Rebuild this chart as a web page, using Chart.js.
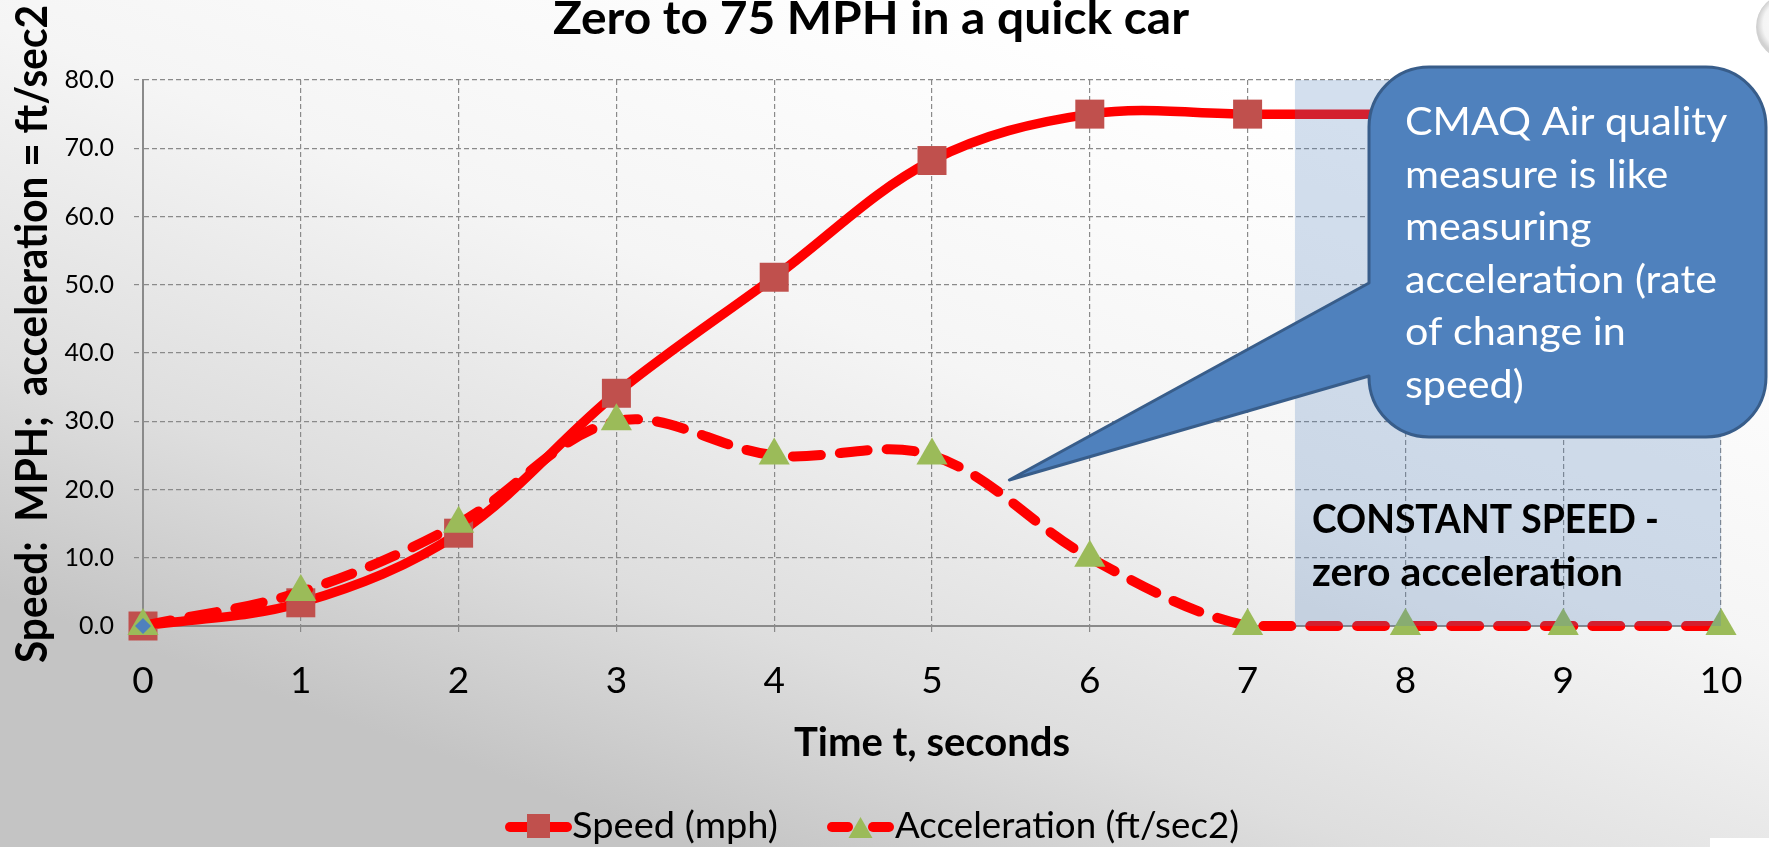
<!DOCTYPE html>
<html>
<head>
<meta charset="utf-8">
<title>Zero to 75 MPH in a quick car</title>
<script src="https://cdn.jsdelivr.net/npm/chart.js@4.4.1/dist/chart.umd.min.js"></script>
<style>
  html, body { margin: 0; padding: 0; width: 1769px; height: 847px; overflow: hidden; background: #fff; }
  #carChart { display: block; }
</style>
</head>
<body>
<canvas id="carChart" width="1769" height="847"></canvas>
<script>
// ── Data ──────────────────────────────────────────────────────
const timeSec     = [0, 1, 2, 3, 4, 5, 6, 7, 8, 9, 10];
const speedMph    = [0, 3.4, 13.6, 34.1, 51.1, 68.2, 75.0, 75.0, 75.0, 75.0, 75.0];
const accelFtSec2 = [0, 5, 15, 30, 25, 25, 10, 0, 0, 0, 0];
const startPoint  = [0];                 // little blue diamond at the origin
const yTicks      = [0, 10, 20, 30, 40, 50, 60, 70, 80];
const constantFrom = 7.3;                // start of the constant speed band

const FONT = 'Lato, "Open Sans", sans-serif';
const RED = '#ff0000';

// draw text squeezed/stretched horizontally to a given width
function drawFitted(ctx, text, x, y, font, width, align) {
    ctx.font = font;
    const w = ctx.measureText(text).width;
    ctx.save();
    ctx.translate(x, y);
    ctx.scale(width / w, 1);
    ctx.textAlign = align || 'left';
    ctx.fillText(text, 0, 0);
    ctx.restore();
}

// ── Slide background ──────────────────────────────────────────
const backgroundPlugin = {
    id: 'slideBackground',
    beforeDraw(chart) {
        const { ctx, width, height } = chart;
        ctx.save();
        const g = ctx.createLinearGradient(1000, 0, 700, height);
        g.addColorStop(0, '#ffffff');
        g.addColorStop(0.4, '#f5f5f5');
        g.addColorStop(0.75, '#dedede');
        g.addColorStop(1, '#c4c4c4');
        ctx.fillStyle = g;
        ctx.fillRect(0, 0, width, height);
        ctx.restore();
    }
};

// ── Shaded band + its label (sits over the lines) ─────────────
const bandPlugin = {
    id: 'constantBand',
    afterDatasetsDraw(chart) {
        const { ctx, scales: { x, y } } = chart;
        const left = x.getPixelForValue(constantFrom);
        const right = x.getPixelForValue(timeSec[timeSec.length - 1]);
        const top = y.getPixelForValue(yTicks[yTicks.length - 1]);
        const bottom = y.getPixelForValue(0);
        ctx.save();
        ctx.fillStyle = 'rgba(79, 129, 189, 0.25)';
        ctx.fillRect(left, top, right - left, bottom - top);

        ctx.fillStyle = '#000';
        ctx.textBaseline = 'alphabetic';
        drawFitted(ctx, 'CONSTANT SPEED -', left + 17, 533, 'bold 40px ' + FONT, 347);
        drawFitted(ctx, 'zero acceleration', left + 17, 586, 'bold 40px ' + FONT, 311);
        ctx.restore();
    }
};

// ── Title, y title, legend, callout ───────────────────────────
const decorPlugin = {
    id: 'decor',
    afterDraw(chart) {
        const { ctx, scales: { x, y } } = chart;
        ctx.save();
        ctx.fillStyle = '#000';
        ctx.textBaseline = 'alphabetic';

        // chart title
        drawFitted(ctx, 'Zero to 75 MPH in a quick car', 871, 34, 'bold 45px ' + FONT, 636, 'center');

        // rotated value-axis title
        ctx.save();
        ctx.translate(33, 334);
        ctx.rotate(-Math.PI / 2);
        ctx.textBaseline = 'middle';
        drawFitted(ctx, 'Speed:  MPH;  acceleration = ft/sec2', 0, 0, 'bold 43px ' + FONT, 658, 'center');
        ctx.restore();

        // legend: speed
        ctx.lineCap = 'round';
        ctx.strokeStyle = RED;
        ctx.lineWidth = 10;
        ctx.beginPath(); ctx.moveTo(510, 827); ctx.lineTo(567, 827); ctx.stroke();
        ctx.fillStyle = '#c0504d';
        ctx.fillRect(527, 814, 23, 24);
        ctx.fillStyle = '#000';
        drawFitted(ctx, chart.data.datasets[0].label, 572, 838, '37px ' + FONT, 206);

        // legend: acceleration
        ctx.strokeStyle = RED;
        ctx.beginPath(); ctx.moveTo(832, 827); ctx.lineTo(848, 827); ctx.stroke();
        ctx.beginPath(); ctx.moveTo(873, 827); ctx.lineTo(889, 827); ctx.stroke();
        ctx.fillStyle = '#9bbb59';
        ctx.beginPath(); ctx.moveTo(860.5, 817); ctx.lineTo(872.5, 838); ctx.lineTo(848.5, 838); ctx.closePath(); ctx.fill();
        ctx.fillStyle = '#000';
        drawFitted(ctx, chart.data.datasets[1].label, 895, 838, '37px ' + FONT, 344);

        // callout bubble pointing at the acceleration curve
        const tipX = x.getPixelForValue(5.49), tipY = y.getPixelForValue(21.4);
        const L = 1369, T = 67, R = 1766, B = 437, r = 60;
        ctx.beginPath();
        ctx.moveTo(L + r, T);
        ctx.lineTo(R - r, T);
        ctx.arcTo(R, T, R, T + r, r);
        ctx.lineTo(R, B - r);
        ctx.arcTo(R, B, R - r, B, r);
        ctx.lineTo(L + r, B);
        ctx.arcTo(L, B, L, B - r, r);
        ctx.lineTo(L, 376);
        ctx.lineTo(tipX, tipY);
        ctx.lineTo(L, 283);
        ctx.lineTo(L, T + r);
        ctx.arcTo(L, T, L + r, T, r);
        ctx.closePath();
        ctx.fillStyle = '#4f81bd';
        ctx.fill();
        ctx.lineJoin = 'round';
        ctx.lineWidth = 3;
        ctx.strokeStyle = '#385d8a';
        ctx.stroke();

        const lines = ['CMAQ Air quality', 'measure is like', 'measuring',
                       'acceleration (rate', 'of change in', 'speed)'];
        ctx.font = '38px ' + FONT;
        const sx = 312 / ctx.measureText(lines[3]).width;
        ctx.fillStyle = '#ffffff';
        lines.forEach((ln, i) => {
            ctx.save();
            ctx.translate(1405, 135 + i * 52.6);
            ctx.scale(sx, 1);
            ctx.fillText(ln, 0, 0);
            ctx.restore();
        });

        // slide button peeking in at the top right corner
        ctx.fillStyle = 'rgba(0,0,0,0.18)';
        ctx.beginPath(); ctx.arc(1789, 27, 33, 0, Math.PI * 2); ctx.fill();
        const rg = ctx.createRadialGradient(1792, 22, 4, 1788, 25, 31);
        rg.addColorStop(0, '#ffffff');
        rg.addColorStop(0.8, '#f4f4f4');
        rg.addColorStop(1, '#d0d0d0');
        ctx.fillStyle = rg;
        ctx.beginPath(); ctx.arc(1788, 25, 31, 0, Math.PI * 2); ctx.fill();

        ctx.fillStyle = '#ffffff';
        ctx.fillRect(1710, 838, 59, 9);
        ctx.restore();
    }
};

// ── Chart ─────────────────────────────────────────────────────
const toPoints = (vals) => vals.map((v, i) => ({ x: timeSec[i], y: v }));
const gridColor = '#8a8a8a';

new Chart(document.getElementById('carChart'), {
    type: 'line',
    data: {
        datasets: [
            {
                label: 'Speed (mph)',
                data: toPoints(speedMph),
                borderColor: RED, borderWidth: 9.5, tension: 0.35,
                pointStyle: 'rect', pointRadius: 20.5, pointHoverRadius: 20.5,
                pointBackgroundColor: '#c0504d', pointBorderColor: '#c0504d', pointBorderWidth: 0,
                order: 2, clip: false
            },
            {
                label: 'Acceleration (ft/sec2)',
                data: toPoints(accelFtSec2),
                borderColor: RED, borderWidth: 10, tension: 0.35,
                borderDash: [28, 19], borderCapStyle: 'round',
                pointStyle: 'triangle', pointRadius: 18, pointHoverRadius: 18,
                pointBackgroundColor: '#9bbb59', pointBorderColor: '#9bbb59', pointBorderWidth: 0,
                order: 1, clip: false
            },
            {
                label: 'start',
                data: toPoints(startPoint),
                showLine: false,
                pointStyle: 'rectRot', pointRadius: 8,
                pointBackgroundColor: '#4f81bd', pointBorderWidth: 0,
                order: 0, clip: false
            }
        ]
    },
    options: {
        responsive: false,
        animation: false,
        devicePixelRatio: 1,
        layout: { padding: { top: 80, right: 48, bottom: 80, left: 0 } },
        plugins: {
            legend: { display: false },
            tooltip: { enabled: false },
            title: { display: false }
        },
        scales: {
            x: {
                type: 'linear', min: 0, max: 10,
                afterFit(scale) { scale.height = 141; },
                ticks: {
                    stepSize: 1, padding: 24, color: '#000',
                    font: { family: FONT, size: 37 }
                },
                grid: { color: gridColor, lineWidth: 1.2, tickLength: 9, tickBorderDash: [5, 3], tickColor: gridColor },
                border: { display: true, color: gridColor, width: 2, dash: [5, 3] },
                title: {
                    display: true, text: 'Time t, seconds', color: '#000',
                    font: { family: FONT, size: 40, weight: 'bold' },
                    padding: { top: 0, bottom: 0 }
                }
            },
            y: {
                min: yTicks[0], max: yTicks[yTicks.length - 1],
                afterFit(scale) { scale.width = 143; },
                afterBuildTicks(scale) { scale.ticks = yTicks.map(v => ({ value: v })); },
                ticks: {
                    padding: 20, color: '#000',
                    font: { family: FONT, size: 25 },
                    callback: (v) => Number(v).toFixed(1)
                },
                grid: { color: gridColor, lineWidth: 1.2, tickLength: 9, tickBorderDash: [5, 3], tickColor: gridColor },
                border: { display: true, color: gridColor, width: 2, dash: [5, 3] }
            }
        }
    },
    plugins: [backgroundPlugin, bandPlugin, decorPlugin]
});
</script>
</body>
</html>
